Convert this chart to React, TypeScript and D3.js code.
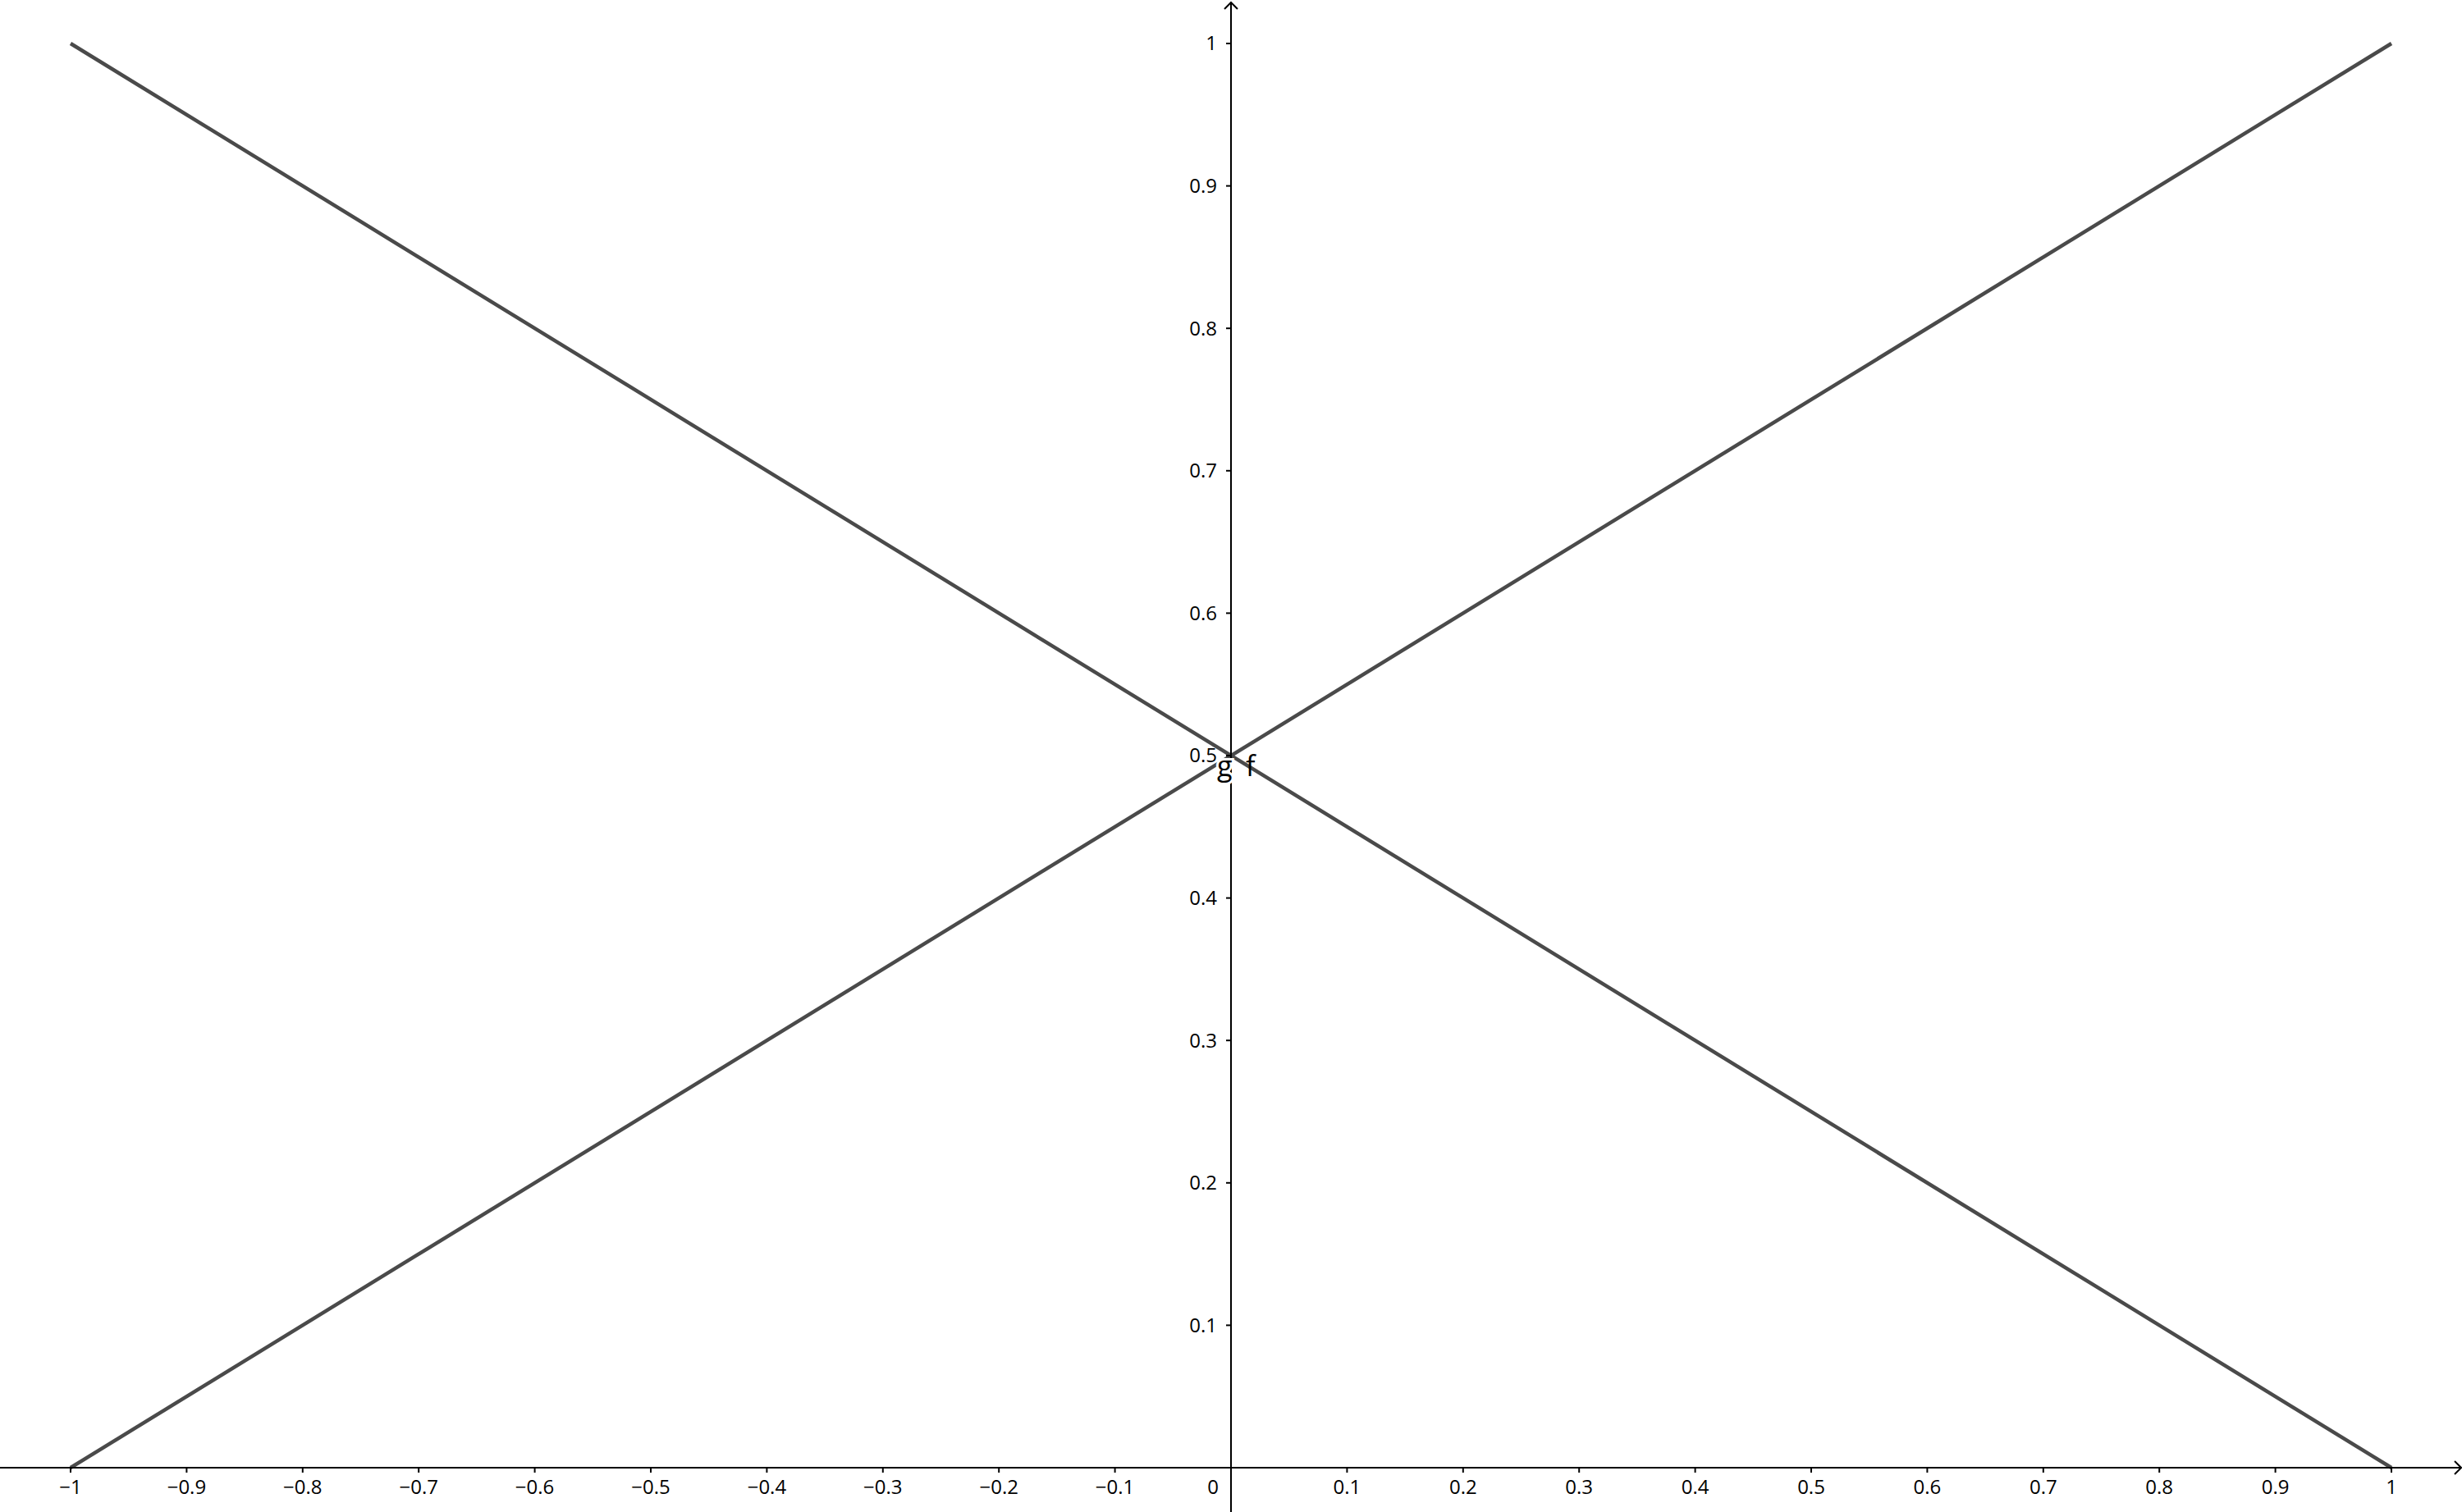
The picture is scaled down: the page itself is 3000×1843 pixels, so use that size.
import { useEffect, useRef } from "react";
import * as d3 from "d3";

const W = 3000;
const H = 1843;
const FONT = "'Open Sans', 'Noto Sans', sans-serif";

const xPoints = [-1, 1];
const fValues = [0, 1];
const gValues = [1, 0];
const xTicks = [-1, -0.9, -0.8, -0.7, -0.6, -0.5, -0.4, -0.3, -0.2, -0.1, 0.1, 0.2, 0.3, 0.4, 0.5, 0.6, 0.7, 0.8, 0.9, 1];
const yTicks = [0.1, 0.2, 0.3, 0.4, 0.5, 0.6, 0.7, 0.8, 0.9, 1];
const curveLabels = ["g", "f"];

export default function App() {
  const ref = useRef<SVGSVGElement>(null);

  useEffect(() => {
    document.body.style.margin = "0";
    if (!ref.current) return;
    const svg = d3.select(ref.current);
    svg.selectAll("*").remove();

    const x = d3.scaleLinear().domain([-1, 1]).range([86, 2914]);
    const y = d3.scaleLinear().domain([0, 1]).range([1789, 53]);
    const x0 = x(0), y0 = y(0);
    const fmt = (v: number) => d3.format("")(v);

    svg.append("rect").attr("width", W).attr("height", H).attr("fill", "#fff");

    // lines
    const line = d3.line<[number, number]>().x((d) => x(d[0])).y((d) => y(d[1]));
    [fValues, gValues].forEach((vals) => {
      svg.append("path")
        .datum(xPoints.map((xv, i) => [xv, vals[i]] as [number, number]))
        .attr("d", line)
        .attr("fill", "none").attr("stroke", "#4a4a4a").attr("stroke-width", 4.5);
    });

    // axes
    svg.append("line")
      .attr("x1", 0).attr("x2", W - 1).attr("y1", y0).attr("y2", y0)
      .attr("stroke", "#000").attr("stroke-width", 2);
    svg.append("path")
      .attr("d", `M${W - 9},${y0 - 8} L${W - 1},${y0} L${W - 9},${y0 + 8}`)
      .attr("fill", "none").attr("stroke", "#000").attr("stroke-width", 2);

    svg.append("line")
      .attr("x1", x0).attr("x2", x0).attr("y1", 3).attr("y2", H)
      .attr("stroke", "#000").attr("stroke-width", 2);
    svg.append("path")
      .attr("d", `M${x0 - 8},${11} L${x0},${3} L${x0 + 8},${11}`)
      .attr("fill", "none").attr("stroke", "#000").attr("stroke-width", 2);

    // x ticks
    xTicks.forEach((t) => {
      svg.append("line")
        .attr("x1", x(t)).attr("x2", x(t)).attr("y1", y0).attr("y2", y0 + 6)
        .attr("stroke", "#000").attr("stroke-width", 2);
      svg.append("text")
        .attr("x", x(t)).attr("y", y0 + 32)
        .attr("text-anchor", "middle")
        .attr("font-family", FONT).attr("font-size", 24).attr("fill", "#000")
        .text(fmt(t));
    });
    svg.append("text")
      .attr("x", x0 - 15).attr("y", y0 + 32)
      .attr("text-anchor", "end")
      .attr("font-family", FONT).attr("font-size", 24).attr("fill", "#000")
      .text("0");

    // y ticks
    yTicks.forEach((t) => {
      svg.append("line")
        .attr("x1", x0 - 6).attr("x2", x0).attr("y1", y(t)).attr("y2", y(t))
        .attr("stroke", "#000").attr("stroke-width", 2);
      svg.append("text")
        .attr("x", x0 - 17).attr("y", y(t))
        .attr("dy", "0.35em")
        .attr("text-anchor", "end")
        .attr("font-family", FONT).attr("font-size", 24).attr("fill", "#000")
        .text(fmt(t));
    });

    // curve labels
    const lx = [x0 - 17, x0 + 18];
    curveLabels.forEach((lab, i) => {
      svg.append("text")
        .attr("x", lx[i]).attr("y", y(0.5) + 25)
        .attr("font-family", FONT).attr("font-size", 34).attr("fill", "#000")
        .attr("stroke", i === 0 ? "#fff" : "none").attr("stroke-width", 6)
        .attr("paint-order", "stroke")
        .text(lab);
    });
  }, []);

  return <svg ref={ref} width={W} height={H} style={{ display: "block" }} />;
}
